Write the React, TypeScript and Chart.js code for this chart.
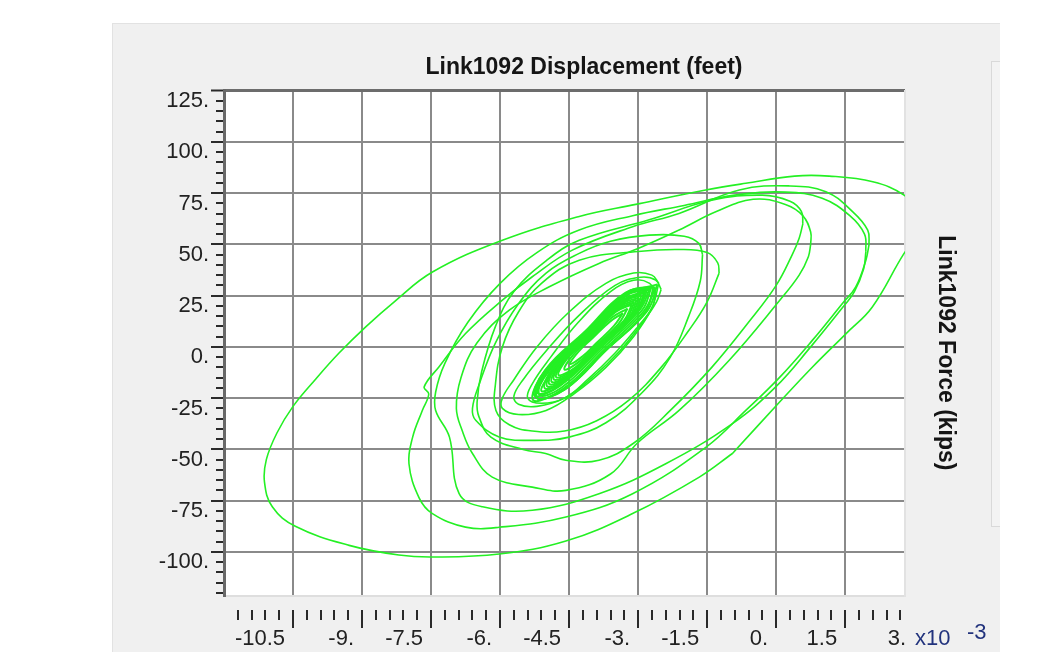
import React, { useEffect, useRef } from 'react';
import { Chart, registerables } from 'chart.js';

Chart.register(...registerables);

type P = [number, number];

// Displacement in units of 1e-3 feet (x), force in kips (y)
const loopA: P[] = [
  [-0.95, -52], [0.05, -27.5], [0.79, -9.8], [1.52, 6.5], [2.09, 19.5], [2.78, 45.6], [3.3, 62],
  [2.78, 74], [2.1, 80.5], [1.15, 83.3], [0.4, 83.3], [-0.66, 79.8], [-1.53, 76.5], [-3.05, 69.5],
  [-4.3, 63.5], [-5.95, 52], [-7.47, 36.5], [-8.3, 22], [-8.92, 9.8], [-9.5, -3], [-10.0, -15.5],
  [-10.5, -29], [-10.85, -42], [-11.08, -55], [-11.12, -66], [-10.95, -78], [-10.45, -87.5],
  [-9.28, -96.8], [-8.2, -101.5], [-7.47, -102.5], [-6.02, -101], [-4.57, -94.7], [-3.12, -81.3],
  [-1.67, -63.5], [-0.95, -52],
];

const loopB1: P[] = [
  [2.02, 50], [1.99, 57], [1.66, 66], [1.08, 75.7], [0.3, 78.5], [-0.8, 76.5], [-2.11, 65.1],
  [-3.12, 58.6], [-4.43, 47.2], [-5.3, 34.2], [-5.95, 22.8], [-6.75, 6.5], [-7.33, -9.8],
  [-7.65, -19.5], [-7.55, -23], [-7.69, -31], [-7.9, -44], [-7.98, -57], [-7.76, -73.6],
  [-7.47, -81.3], [-6.75, -87.9], [-6.02, -88], [-4.57, -83], [-3.12, -71.6], [-1.53, -49],
  [-0.66, -31], [0.07, -15], [0.79, 3.3], [1.44, 21.2], [1.73, 29.3], [1.95, 42.3], [2.02, 50],
];

const loopB2: P[] = [
  [1.95, 46.5], [1.92, 55], [1.6, 64], [1.0, 72.5], [0.2, 75.5], [-0.9, 74], [-2.0, 69],
  [-3.12, 64], [-4.28, 57], [-5.2, 46], [-6.0, 31], [-6.7, 12], [-7.2, -8], [-7.4, -22],
  [-7.4, -31], [-7.1, -44], [-6.89, -71.6], [-6.38, -78], [-5.3, -79.7], [-3.85, -71.6],
  [-2.4, -57], [-0.95, -37.4], [-0.01, -19.5], [0.75, 0], [1.4, 18], [1.7, 27], [1.9, 38], [1.95, 46.5],
];

const loopC1: P[] = [
  [0.75, 50], [0.75, 56], [0.58, 64], [0.2, 69.5], [-0.5, 72], [-1.3, 66], [-2.11, 57],
  [-3.0, 48], [-3.85, 40.7], [-4.93, 29.3], [-5.8, 17.9], [-6.5, 2], [-6.85, -15], [-6.95, -30],
  [-6.82, -41], [-6.6, -52], [-6.17, -63.5], [-5.3, -68.4], [-4.57, -70], [-3.6, -62],
  [-3.02, -47], [-2.11, -31], [-1.02, -6.5], [0.07, 22.5], [0.5, 35], [0.7, 44], [0.75, 50],
];

const loopC2: P[] = [
  [0.58, 60], [0.55, 66], [0.3, 71], [-0.3, 74], [-1.4, 71.5], [-2.76, 62], [-4.28, 52],
  [-5.0, 42], [-5.7, 27], [-6.1, 10], [-6.4, -12], [-6.5, -27], [-6.46, -34], [-6.2, -44],
  [-5.5, -50], [-5.01, -52], [-4.57, -55.3], [-3.85, -55.3], [-3.1, -47], [-2.3, -31],
  [-1.4, -10], [-0.6, 12], [0.0, 30], [0.35, 45], [0.5, 53], [0.58, 60],
];

const loopD1: P[] = [
  [-1.24, 36], [-1.27, 41], [-1.5, 46], [-2.11, 47.5], [-3.0, 46.5], [-4.28, 42.3], [-5.1, 31],
  [-5.6, 17], [-5.95, 0], [-6.1, -18], [-6.09, -31], [-5.8, -38], [-5.3, -41], [-4.6, -41],
  [-3.9, -36], [-3.2, -26], [-2.5, -10], [-1.9, 8], [-1.5, 22], [-1.24, 36],
];

const loopD2: P[] = [
  [-1.6, 45], [-1.68, 50.5], [-2.0, 54], [-2.76, 54.5], [-3.6, 51.5], [-4.28, 45.6], [-5.0, 36],
  [-5.6, 21], [-6.1, 2], [-6.45, -18], [-6.6, -30], [-6.53, -35.8], [-6.02, -43.9], [-5.3, -45.6],
  [-4.5, -44], [-3.7, -37], [-2.9, -22], [-2.3, -5], [-1.9, 15], [-1.65, 32], [-1.6, 45],
];

const loopS1: P[] = [
  [-2.55, 31], [-2.7, 35], [-3.1, 36], [-3.7, 31], [-4.5, 17], [-5.2, 0], [-5.7, -16], [-5.95, -25],
  [-5.95, -30], [-5.6, -33], [-5.0, -31], [-4.4, -23], [-3.7, -10], [-3.1, 5], [-2.7, 19], [-2.55, 31],
];

const loopS2: P[] = [
  [-2.5, 28], [-2.62, 32.6], [-2.95, 34], [-3.5, 30], [-4.3, 15], [-5.0, -2], [-5.5, -16], [-5.7, -24],
  [-5.6, -28], [-5.2, -29], [-4.6, -25], [-4.0, -15], [-3.4, -2], [-2.9, 12], [-2.6, 22], [-2.5, 28],
];

const loopS3: P[] = [
  [-2.62, 26], [-2.75, 31], [-3.1, 32.5], [-3.6, 27], [-4.3, 12], [-4.9, -5], [-5.3, -18], [-5.4, -25],
  [-5.1, -27.5], [-4.6, -25], [-4.1, -16], [-3.5, -3], [-3.0, 10], [-2.7, 19], [-2.62, 26],
];

const coreE1: P[] = [[-2.62, 29], [-3.27, 26.5], [-4.15, 7.6], [-5.02, -11.3], [-5.28, -26], [-4.63, -20.5], [-3.75, -1.6], [-2.88, 17.3], [-2.62, 29]];
const coreE2: P[] = [[-2.72, 28.5], [-3.24, 25.8], [-4.12, 6.9], [-4.99, -12.0], [-5.14, -23.5], [-4.66, -19.8], [-3.78, -0.9], [-2.91, 18.0], [-2.72, 28.5]];
const coreE3: P[] = [[-2.82, 27], [-3.29, 23.4], [-4.09, 6.2], [-4.84, -10.0], [-5.03, -20.2], [-4.56, -16.4], [-3.81, -0.2], [-3.01, 17.1], [-2.82, 27]];
const coreE4: P[] = [[-2.93, 25.1], [-3.32, 22.0], [-4.07, 5.8], [-4.77, -9.3], [-4.93, -18.1], [-4.53, -14.9], [-3.83, 0.2], [-3.08, 16.4], [-2.93, 25.1]];
const coreE5: P[] = [[-3.03, 23.0], [-3.41, 19.5], [-4.06, 5.5], [-4.66, -7.5], [-4.83, -15.9], [-4.44, -12.4], [-3.84, 0.5], [-3.19, 14.6], [-3.03, 23.0]];
const coreE6: P[] = [[-3.13, 20.8], [-3.49, 17.0], [-4.04, 5.1], [-4.54, -5.7], [-4.73, -13.7], [-4.36, -9.9], [-3.86, 0.9], [-3.31, 12.8], [-3.13, 20.8]];
const coreE7: P[] = [[-3.23, 18.7], [-3.57, 14.3], [-4.02, 4.6], [-4.42, -4.1], [-4.6, -11.0], [-4.28, -7.2], [-3.88, 1.4], [-3.43, 11.1], [-3.23, 18.7]];
const coreE8: P[] = [[-3.33, 16.5], [-3.62, 12.2], [-4.0, 4.1], [-4.3, -2.4], [-4.48, -8.3], [-4.2, -4.5], [-3.9, 2.0], [-3.53, 10.1], [-3.33, 16.5]];
const coreE9: P[] = [[-2.58, 30.5], [-3.18, 26.2], [-4.06, 7.3], [-4.93, -11.6], [-5.2, -25], [-4.56, -20.2], [-3.68, -1.3], [-2.8, 17.6], [-2.58, 30.5]];
const coreE10: P[] = [[-2.8, 28.8], [-3.31, 25.4], [-4.18, 6.5], [-5.05, -12.4], [-5.25, -23.8], [-4.75, -19.4], [-3.88, -0.5], [-3.0, 18.4], [-2.8, 28.8]];
const coreE11: P[] = [[-2.82, 27.5], [-3.17, 24.0], [-4.04, 5.1], [-4.92, -13.8], [-5.1, -21.5], [-4.73, -18.0], [-3.86, 0.9], [-2.98, 19.8], [-2.82, 27.5]];
const coreE12: P[] = [[-2.66, 29.5], [-3.22, 26.8], [-4.1, 7.9], [-4.97, -10.8], [-5.22, -24.8], [-4.6, -20.9], [-3.72, -2.0], [-2.85, 16.9], [-2.66, 29.5]];
const coreE13: P[] = [[-2.76, 28.0], [-3.27, 25.0], [-4.14, 6.2], [-5.0, -12.6], [-5.18, -22.6], [-4.7, -19.0], [-3.82, -0.3], [-2.95, 18.6], [-2.76, 28.0]];
const coreE14: P[] = [[-2.87, 26.2], [-3.3, 22.8], [-4.08, 6.0], [-4.8, -9.7], [-4.98, -19.2], [-4.55, -15.7], [-3.82, 0.0], [-3.05, 16.8], [-2.87, 26.2]];
const coreE15: P[] = [[-2.98, 24.0], [-3.37, 20.8], [-4.07, 5.6], [-4.7, -8.4], [-4.88, -17.0], [-4.48, -13.6], [-3.84, 0.4], [-3.14, 15.5], [-2.98, 24.0]];
const coreE16: P[] = [[-3.08, 21.9], [-3.45, 18.2], [-4.05, 5.3], [-4.6, -6.6], [-4.78, -14.8], [-4.4, -11.1], [-3.85, 0.7], [-3.25, 13.7], [-3.08, 21.9]];

const outerLoops: P[][] = [loopA, loopB1, loopB2, loopC1, loopC2, loopD1, loopD2, loopS1, loopS2, loopS3];
const coreLoops: P[][] = [
  coreE1, coreE2, coreE3, coreE4, coreE5, coreE6, coreE7, coreE8, coreE9, coreE10, coreE11,
  coreE12, coreE13, coreE14, coreE15, coreE16,
];

// Axes
const X_MIN = -12;
const X_MAX = 2.8;
const Y_MIN = -121.5;
const Y_MAX = 125;
const xMajorTicks = [-10.5, -9, -7.5, -6, -4.5, -3, -1.5, 0, 1.5, 3];
const xTickLabels = ['-10.5', '-9.', '-7.5', '-6.', '-4.5', '-3.', '-1.5', '0.', '1.5', '3.'];
const yMajorTicks = [125, 100, 75, 50, 25, 0, -25, -50, -75, -100];
const yTickLabels = ['125.', '100.', '75.', '50.', '25.', '0.', '-25.', '-50.', '-75.', '-100.'];
const X_MINOR_STEP = 0.3;
const Y_MINOR_STEP = 5;
const Y_MINOR_LOW = -120;

const TITLE = 'Link1092 Displacement (feet)';
const Y_TITLE = '   Link1092 Force (kips)';
const EXP_BASE = 'x10';
const EXP_POWER = '-3';

const GREEN = 'rgb(36, 240, 36)';
const GRID = '#8a8a8a';
const FONT = '"Liberation Sans", Arial, Helvetica, sans-serif';

const near = (a: number, b: number) => Math.abs(a - b) < 1e-6;
const xMajorIndex = (v: number) => xMajorTicks.findIndex((m) => near(m, v));
const yMajorIndex = (v: number) => yMajorTicks.findIndex((m) => near(m, v));

function buildXTicks() {
  const out: { value: number }[] = [];
  const n = Math.round((xMajorTicks[xMajorTicks.length - 1] - X_MIN) / X_MINOR_STEP);
  for (let k = 0; k <= n; k++) out.push({ value: Math.round((X_MIN + k * X_MINOR_STEP) * 10) / 10 });
  return out;
}
function buildYTicks() {
  const out: { value: number }[] = [];
  const n = Math.round((Y_MAX - Y_MINOR_LOW) / Y_MINOR_STEP);
  for (let k = 0; k <= n; k++) out.push({ value: Y_MINOR_LOW + k * Y_MINOR_STEP });
  return out;
}

const tickVal = (ctx: any): number | undefined => (ctx && ctx.tick ? ctx.tick.value : undefined);

const plotBg = {
  id: 'plotBg',
  beforeDraw(chart: any) {
    const { ctx, chartArea } = chart;
    ctx.save();
    ctx.fillStyle = '#ffffff';
    ctx.fillRect(chartArea.left, chartArea.top, chartArea.right - chartArea.left, chartArea.bottom - chartArea.top);
    ctx.restore();
  },
};

const exponentLabel = {
  id: 'exponentLabel',
  afterDraw(chart: any) {
    const { ctx, chartArea } = chart;
    ctx.save();
    ctx.fillStyle = '#22337d';
    ctx.font = `22px ${FONT}`;
    ctx.textAlign = 'left';
    ctx.textBaseline = 'middle';
    ctx.fillText(EXP_BASE, chartArea.right + 10, 639);
    ctx.fillText(EXP_POWER, chartArea.right + 62, 633);
    ctx.restore();
  },
};

const makeDataset = (l: P[], width: number) => ({
  data: l.map(([x, y]) => ({ x, y })),
  showLine: true,
  borderColor: GREEN,
  borderWidth: width,
  pointRadius: 0,
  pointHoverRadius: 0,
  tension: 0.4,
  fill: false,
});

export default function App() {
  const ref = useRef<HTMLCanvasElement | null>(null);

  useEffect(() => {
    if (!ref.current) return;
    Chart.defaults.font.family = FONT;
    const chart = new Chart(ref.current, {
      type: 'scatter',
      data: {
        datasets: [
          ...outerLoops.map((l) => makeDataset(l, 1.6)),
          ...coreLoops.map((l) => makeDataset(l, 2)),
        ],
      },
      options: {
        animation: false,
        responsive: false,
        events: [],
        elements: { line: { capBezierPoints: false } },
        layout: { padding: { left: 144, right: 38, top: 0, bottom: 6 } },
        plugins: {
          legend: { display: false },
          tooltip: { enabled: false },
          title: {
            display: true,
            text: TITLE,
            color: '#151515',
            font: { size: 23, weight: 'bold', family: FONT },
            padding: { top: 54, bottom: 9 },
          },
        },
        scales: {
          x: {
            type: 'linear',
            position: 'bottom',
            min: X_MIN,
            max: X_MAX,
            afterBuildTicks: (s: any) => {
              s.ticks = buildXTicks();
            },
            afterFit: (s: any) => {
              s.height = 50;
            },
            ticks: {
              autoSkip: false,
              maxRotation: 0,
              minRotation: 0,
              align: 'end',
              labelOffset: -8,
              padding: 0,
              color: '#222',
              font: { size: 22, lineHeight: 1, family: FONT },
              callback: (v: any) => {
                const i = xMajorIndex(Number(v));
                return i >= 0 ? xTickLabels[i] : '';
              },
            },
            grid: {
              color: (ctx: any) => {
                const v = tickVal(ctx);
                if (v === undefined) return 'rgba(0,0,0,0)';
                return xMajorIndex(v) >= 0 && v < X_MAX ? GRID : 'rgba(0,0,0,0)';
              },
              lineWidth: 2,
              tickLength: 32,
              tickWidth: 2,
              tickColor: (ctx: any) => {
                const v = tickVal(ctx);
                if (v === undefined) return 'rgba(0,0,0,0)';
                return v > X_MIN + 1e-6 && v < X_MAX ? '#2a2a2a' : 'rgba(0,0,0,0)';
              },
              tickBorderDash: (ctx: any) => {
                const v = tickVal(ctx);
                return v !== undefined && xMajorIndex(v) >= 0 ? [0, 13, 40, 0] : [0, 13, 10, 100];
              },
            },
            border: { display: true, color: '#dedede', width: 2 },
          },
          y: {
            type: 'linear',
            position: 'left',
            min: Y_MIN,
            max: Y_MAX,
            afterBuildTicks: (s: any) => {
              s.ticks = buildYTicks();
            },
            afterFit: (s: any) => {
              s.width = 80;
            },
            ticks: {
              autoSkip: false,
              padding: 2,
              labelOffset: 10.5,
              color: '#222',
              font: { size: 22, family: FONT },
              callback: (v: any) => {
                const i = yMajorIndex(Number(v));
                return i >= 0 ? yTickLabels[i] : '';
              },
            },
            grid: {
              color: (ctx: any) => {
                const v = tickVal(ctx);
                if (v === undefined) return 'rgba(0,0,0,0)';
                if (near(v, Y_MAX)) return '#6c6c6c';
                return yMajorIndex(v) >= 0 ? GRID : 'rgba(0,0,0,0)';
              },
              lineWidth: (ctx: any) => {
                const v = tickVal(ctx);
                return v !== undefined && near(v, Y_MAX) ? 3 : 2;
              },
              tickLength: 13,
              tickWidth: 2,
              tickColor: '#2a2a2a',
              tickBorderDash: (ctx: any) => {
                const v = tickVal(ctx);
                return v !== undefined && yMajorIndex(v) >= 0 ? [] : [0, 5, 20, 0];
              },
            },
            border: { display: true, color: '#686868', width: 3 },
          },
          y2: {
            type: 'linear',
            position: 'right',
            min: Y_MIN,
            max: Y_MAX,
            afterFit: (s: any) => {
              s.width = 119;
            },
            ticks: { display: false },
            grid: { display: false },
            border: { display: true, color: '#e2e2e2', width: 2 },
            title: {
              display: true,
              text: Y_TITLE,
              color: '#151515',
              font: { size: 23, weight: 'bold', family: FONT },
              padding: { top: 65, bottom: 0 },
            },
          },
        },
      } as any,
      plugins: [plotBg, exponentLabel],
    });
    return () => chart.destroy();
  }, []);

  return (
    <div style={{ position: 'absolute', left: 0, top: 0, width: 1062, height: 652, background: '#ffffff', overflow: 'hidden' }}>
      <div
        style={{
          position: 'absolute',
          left: 112,
          top: 23,
          width: 887,
          height: 640,
          background: '#f0f0f0',
          borderTop: '1px solid #e2e2e2',
          borderLeft: '1px solid #e2e2e2',
        }}
      />
      <div
        style={{
          position: 'absolute',
          left: 991,
          top: 61,
          width: 8,
          height: 464,
          background: '#f3f3f3',
          borderLeft: '1px solid #d9d9d9',
          borderTop: '1px solid #d9d9d9',
          borderBottom: '1px solid #d9d9d9',
        }}
      />
      <canvas ref={ref} width={1062} height={652} style={{ position: 'absolute', left: 0, top: 0, width: 1062, height: 652 }} />
    </div>
  );
}
